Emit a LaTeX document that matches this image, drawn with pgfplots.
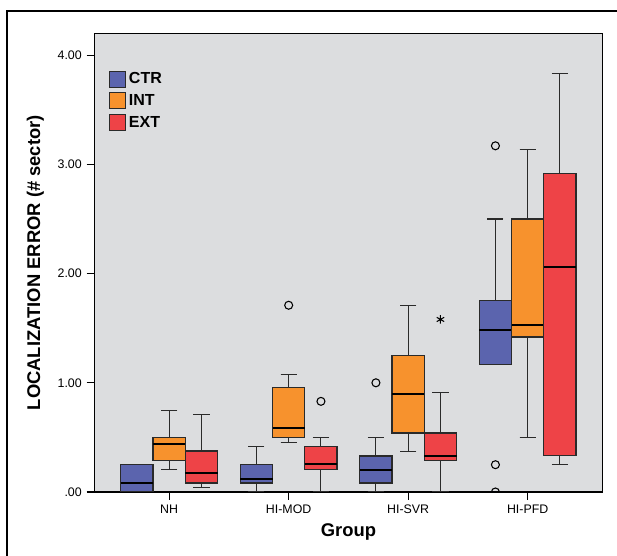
\documentclass[border=0pt]{standalone}
\usepackage{pgfplots}
\pgfplotsset{compat=1.18}
\usepgfplotslibrary{statistics}
\usepackage{fontspec}
\setmainfont{Liberation Sans}
\definecolor{ctr}{HTML}{5B64AE}
\definecolor{int}{HTML}{F7922D}
\definecolor{ext}{HTML}{EE4347}
\definecolor{bg}{HTML}{DCDDDF}
\definecolor{edge}{HTML}{2A2A2A}
\begin{document}
\begin{tikzpicture}
\useasboundingbox (0,0) rectangle (462.75pt,417pt);
\begin{scope}
\clip (0,0) rectangle (462.75pt,417pt);
\draw[line width=1.6pt, black] (5.25pt,-10pt) -- (5.25pt,408.75pt) -- (480pt,408.75pt);
\end{scope}
\begin{axis}[
  at={(70.875pt,48pt)}, anchor=south west,
  scale only axis, width=380.9pt, height=344pt,
  xmin=-0.625, xmax=3.625, ymin=0, ymax=4.2,
  axis background/.style={fill=bg},
  axis line style={line width=0.9pt, black},
  xtick={0,1,2,3}, xticklabels={NH,HI-MOD,HI-SVR,HI-PFD},
  ytick={0,1,2,3,4}, yticklabels={.00,1.00,2.00,3.00,4.00},
  tick pos=left, tick align=outside, major tick length=6pt,
  tick style={black, line width=0.8pt},
  ticklabel style={font=\fontsize{9.3}{11}\selectfont},
  xlabel={Group}, ylabel={LOCALIZATION ERROR (\# sector)},
  label style={font=\bfseries\fontsize{13.8}{16}\selectfont},
  xlabel style={at={(axis description cs:0.5,-0.0872)}, anchor=center},
  ylabel style={at={(axis description cs:-0.1162,0.5)}, anchor=center},
  clip marker paths=true,
  legend style={at={(0.0285,0.921)}, anchor=north west, draw=none, fill=none,
    inner sep=0pt, font=\bfseries\fontsize{12}{14}\selectfont, row sep=2.5pt},
  legend cell align=left,
  legend image code/.code={\draw[#1] (0pt,-6pt) rectangle (12pt,6pt);},
  boxplot/draw direction=y,
  boxplot/box extend=0.27,
  boxplot/whisker extend=0.135,
  boxplot/every median/.style={black, line width=1.6pt},
  boxplot/every whisker/.style={edge, line width=0.8pt},
  boxplot/every box/.style={draw=edge, line width=0.9pt},
]
\addlegendimage{fill=ctr, draw=edge, line width=0.8pt}
\addlegendentry{CTR}
\addlegendimage{fill=int, draw=edge, line width=0.8pt}
\addlegendentry{INT}
\addlegendimage{fill=ext, draw=edge, line width=0.8pt}
\addlegendentry{EXT}
% NH
\addplot[forget plot, fill=ctr, draw=edge, mark=none, boxplot prepared={draw position=-0.27, lower whisker=0, lower quartile=0, median=0.085, upper quartile=0.25, upper whisker=0.25}] coordinates {};
\addplot[forget plot, fill=int, draw=edge, mark=none, boxplot prepared={draw position=0, lower whisker=0.21, lower quartile=0.29, median=0.44, upper quartile=0.50, upper whisker=0.746}] coordinates {};
\addplot[forget plot, fill=ext, draw=edge, mark=none, boxplot prepared={draw position=0.27, lower whisker=0.04, lower quartile=0.083, median=0.177, upper quartile=0.376, upper whisker=0.706}] coordinates {};
% HI-MOD
\addplot[forget plot, fill=ctr, draw=edge, mark=none, boxplot prepared={draw position=0.73, lower whisker=0, lower quartile=0.083, median=0.12, upper quartile=0.25, upper whisker=0.416}] coordinates {};
\addplot[forget plot, fill=int, draw=edge, mark=none, boxplot prepared={draw position=1, lower whisker=0.456, lower quartile=0.50, median=0.587, upper quartile=0.957, upper whisker=1.08}] coordinates {};
\addplot[forget plot, fill=ext, draw=edge, mark=none, boxplot prepared={draw position=1.27, lower whisker=0, lower quartile=0.208, median=0.257, upper quartile=0.416, upper whisker=0.50}] coordinates {};
% HI-SVR
\addplot[forget plot, fill=ctr, draw=edge, mark=none, boxplot prepared={draw position=1.73, lower whisker=0, lower quartile=0.083, median=0.205, upper quartile=0.33, upper whisker=0.50}] coordinates {};
\addplot[forget plot, fill=int, draw=edge, mark=none, boxplot prepared={draw position=2, lower whisker=0.373, lower quartile=0.54, median=0.896, upper quartile=1.25, upper whisker=1.71}] coordinates {};
\addplot[forget plot, fill=ext, draw=edge, mark=none, boxplot prepared={draw position=2.27, lower whisker=0, lower quartile=0.287, median=0.333, upper quartile=0.54, upper whisker=0.91}] coordinates {};
% HI-PFD
\addplot[forget plot, fill=ctr, draw=edge, mark=none, boxplot prepared={draw position=2.73, lower whisker=1.165, lower quartile=1.165, median=1.48, upper quartile=1.75, upper whisker=2.50}] coordinates {};
\addplot[forget plot, fill=int, draw=edge, mark=none, boxplot prepared={draw position=3, lower whisker=0.50, lower quartile=1.42, median=1.526, upper quartile=2.50, upper whisker=3.14}] coordinates {};
\addplot[forget plot, fill=ext, draw=edge, mark=none, boxplot prepared={draw position=3.27, lower whisker=0.248, lower quartile=0.337, median=2.06, upper quartile=2.92, upper whisker=3.83}] coordinates {};
% outliers
\addplot[forget plot, only marks, mark=o, mark size=3pt, black, line width=0.8pt] coordinates {(1,1.71) (1.27,0.83) (1.73,1.0) (2.73,3.17) (2.73,0.25) (2.73,0.0)};
\addplot[forget plot, only marks, mark=asterisk, mark size=3.2pt, black, line width=0.8pt] coordinates {(2.27,1.58)};
\end{axis}
\end{tikzpicture}
\end{document}
